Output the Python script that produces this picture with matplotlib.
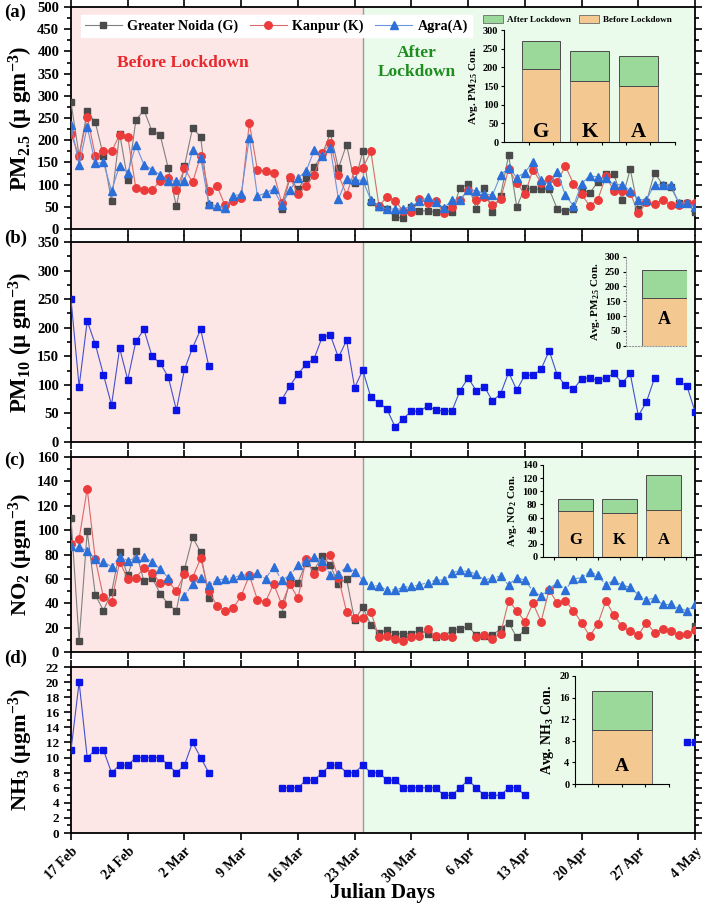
import numpy as np
import matplotlib
matplotlib.use('Agg')
import matplotlib.pyplot as plt
from matplotlib.patches import Patch
from matplotlib.ticker import MultipleLocator

plt.rcParams['font.family'] = ['Liberation Serif', 'DejaVu Serif']
plt.rcParams['font.weight'] = 'bold'
plt.rcParams['mathtext.fontset'] = 'custom'
plt.rcParams['mathtext.rm'] = 'Liberation Serif:bold'
plt.rcParams['mathtext.it'] = 'Liberation Serif:bold:italic'
plt.rcParams['mathtext.bf'] = 'Liberation Serif:bold'
plt.rcParams['axes.linewidth'] = 1.3

nan = np.nan
days = np.arange(78)
tick_days = [0, 7, 14, 21, 28, 35, 42, 49, 56, 63, 70, 77]
tick_labels = ['17 Feb', '24 Feb', '2 Mar', '9 Mar', '16 Mar', '23 Mar',
               '30 Mar', '6 Apr', '13 Apr', '20 Apr', '27 Apr', '4 May']
lockdown_day = 36

pm25_G = [285, 165, 265, 240, 165, 63, 215, 110, 245, 268,
          220, 212, 137, 51, 142, 228, 207, 55, nan, nan,
          nan, nan, nan, nan, nan, nan, 44, 115, 90, 116,
          140, 168, 216, 137, 190, 104, 175, 60, 50, 44,
          27, 25, 50, 41, 41, 38, 45, 38, 93, 101,
          45, 93, 39, 75, 166, 50, 93, 90, 90, 90,
          45, 40, 45, 90, 81, 106, 123, 123, 66, 135,
          45, 61, 127, 100, 95, 59, 59, 38]
pm25_K = [213, 165, 253, 165, 175, 175, 212, 208, 92, 87,
          88, 108, 115, 88, 137, 105, 165, 85, 98, 53,
          63, 70, 239, 133, 130, 126, 58, 117, 78, 98,
          122, 172, 193, 122, 77, 133, 137, 175, 52, 73,
          63, 41, 38, 67, 58, 64, 36, 50, 65, 89,
          65, 72, 55, 67, 135, 104, 78, 134, 104, 112,
          106, 142, 102, 78, 52, 66, 119, 86, 86, 82,
          35, 60, 56, 66, 54, 54, 58, 58]
pm25_A = [234, 145, 230, 148, 150, 86, 143, 127, 189, 145,
          134, 122, 109, 108, 108, 177, 161, 56, 52, 48,
          75, 78, 206, 74, 81, 90, 54, 87, 115, 130,
          177, 165, 182, 67, 113, 110, 110, 65, 51, 45,
          45, 45, 52, 62, 71, 60, 47, 65, 65, 89,
          86, 80, 76, 121, 138, 116, 127, 151, 110, 100,
          128, 76, 52, 102, 120, 117, 114, 100, 100, 86,
          66, 66, 100, 99, 100, 59, 59, 49]
pm10_A = [250, 97, 212, 171, 118, 65, 164, 109, 176, 197,
          150, 138, 114, 56, 127, 165, 197, 133, nan, nan,
          nan, nan, nan, nan, nan, nan, 74, 98, 119, 136,
          146, 184, 187, 148, 178, 95, 126, 78, 69, 57,
          26, 41, 54, 54, 63, 56, 54, 54, 90, 112,
          90, 97, 72, 84, 122, 91, 117, 117, 127, 160,
          117, 99, 92, 111, 112, 108, 112, 120, 103, 120,
          46, 70, 112, nan, nan, 106, 98, 53]
no2_G = [110, 9, 99, 47, 34, 49, 82, 63, 83, 58,
         61, 48, 39, 34, 68, 94, 82, 44, nan, nan,
         nan, nan, nan, nan, nan, nan, 31, 59, 57, 73,
         67, 79, 71, 56, 60, 26, 37, 22, 16, 18,
         15, 15, 15, 18, 15, 12, 13, 18, 19, 21,
         14, 13, 14, 19, 24, 12, 18, nan, nan, nan,
         nan, nan, nan, nan, nan, nan, nan, nan, nan, nan,
         nan, nan, nan, nan, nan, nan, nan, 21]
no2_K = [89, 93, 134, 76, 45, 41, 74, 60, 61, 69,
         65, 57, 58, 50, 64, 61, 77, 50, 38, 34,
         36, 46, 63, 43, 41, 56, 39, 56, 44, 76,
         64, 70, 80, 61, 33, 28, 28, 33, 12, 13,
         11, 9, 12, 13, 19, 13, 13, 12, nan, nan,
         12, 14, 11, 15, 42, 34, 25, 40, 25, 51,
         40, 42, 34, 24, 13, 23, 42, 30, 21, 17,
         14, 24, 16, 19, 17, 14, 15, 18]
no2_A = [87, 86, 83, 76, 74, 70, 78, 75, 77, 78,
         74, 68, 61, nan, 46, 56, 61, 55, 59, 60,
         61, 63, 63, 65, 60, 70, 59, 63, 71, 75,
         78, 75, 63, 64, 70, 66, 59, 55, 54, 51,
         51, 53, 54, 55, 57, 59, 59, 65, 67, 66,
         64, 59, 61, 62, 55, 61, 59, 50, 46, 52,
         57, 51, 60, 61, 66, 63, 55, 59, 55, 53,
         47, 43, 44, 39, 39, 36, 34, 39]
nh3_A = [11, 20, 10, 11, 11, 8, 9, 9, 10, 10,
         10, 10, 9, 8, 9, 12, 10, 8, nan, nan,
         nan, nan, nan, nan, nan, nan, 6, 6, 6, 7,
         7, 8, 9, 9, 8, 8, 9, 8, 8, 7,
         7, 6, 6, 6, 6, 6, 5, 5, 6, 7,
         6, 5, 5, 5, 6, 6, 5, nan, nan, nan,
         nan, nan, nan, nan, nan, nan, nan, nan, nan, nan,
         nan, nan, nan, nan, nan, nan, 12, 12]

# inset averages
cities = ['G', 'K', 'A']
pm25_before = [195, 163, 149]
pm25_after = [77, 80, 81]
pm10_before = [162]
pm10_after = [93]
no2_before = [70, 67, 72]
no2_after = [18, 21, 53]
nh3_before = [10]
nh3_after = [7.2]

series_names = ['Greater Noida (G)', 'Kanpur (K)', 'Agra(A)']

C_G, C_GL = '#4a4a4a', '#808080'
C_K, C_KL = '#ec3b3b', '#d86a6a'
C_A, C_AL = '#2c6fd8', '#6a95de'
C_B, C_BL = '#0a14e6', '#4450d0'
BG_BEFORE = '#fde6e6'
BG_AFTER = '#ebfbeb'
BAR_BEFORE = '#f3c891'
BAR_AFTER = '#9ad99a'

fig = plt.figure(figsize=(7.08, 9.11), dpi=100)
L, W = 0.1003, 0.8814
rects = [[L, 0.7486, W, 0.2437], [L, 0.5148, W, 0.2195],
         [L, 0.2843, W, 0.2140], [L, 0.0856, W, 0.1822]]
axes = [fig.add_axes(r) for r in rects]

ylims = [(0, 500, 50), (0, 350, 50), (0, 160, 20), (0, 22, 2)]
ylabels = ['PM$_{2.5}$ (μ gm$^{-3}$)', 'PM$_{10}$ (μ gm$^{-3}$)',
           'NO$_2$ (μgm$^{-3}$)', 'NH$_3$ (μgm$^{-3}$)']
ylabel_sizes = [16.5, 16.5, 16, 16]

for i, ax in enumerate(axes):
    ax.axvspan(0, lockdown_day, color=BG_BEFORE, zorder=0, lw=0)
    ax.axvspan(lockdown_day, 77, color=BG_AFTER, zorder=0, lw=0)
    ax.axvline(lockdown_day, color='#9a9a9a', lw=1.0, zorder=1)
    ax.set_xlim(0, 77)
    lo, hi, st = ylims[i]
    ax.set_ylim(lo, hi)
    ax.yaxis.set_major_locator(MultipleLocator(st))
    ax.yaxis.set_minor_locator(MultipleLocator(st / 2))
    ax.set_xticks(tick_days)
    ax.tick_params(which='both', direction='out', top=True, right=True,
                   width=1.2, labelsize=10.5 if i < 3 else 9.5)
    ax.tick_params(which='major', length=5)
    ax.tick_params(which='minor', length=3)
    ax.set_ylabel(ylabels[i], fontsize=ylabel_sizes[i], fontweight='bold')
    ax.yaxis.set_label_coords(-0.058, 0.5)
    if i < 3:
        ax.tick_params(labelbottom=False)
    for lab in ax.get_yticklabels():
        lab.set_fontweight('bold')

# panel a
ax = axes[0]
hG, = ax.plot(days, pm25_G, '-s', color=C_GL, mfc=C_G, mec=C_G, ms=4.8, lw=0.8, zorder=3)
hK, = ax.plot(days, pm25_K, '-o', color=C_KL, mfc=C_K, mec=C_K, ms=5.4, lw=0.8, zorder=4)
hA, = ax.plot(days, pm25_A, '-^', color=C_AL, mfc=C_A, mec=C_A, ms=6.0, lw=0.8, zorder=5)
ax.legend([hG, hK, hA], series_names, loc='upper left', bbox_to_anchor=(0.004, 0.995),
          ncol=3, frameon=True, fancybox=False, framealpha=1, edgecolor='white',
          prop={'size': 10.2, 'weight': 'bold'}, handlelength=2.6, columnspacing=0.8,
          handletextpad=0.4, borderpad=0.3)
ax.text(13.8, 374, 'Before Lockdown', color='#e8262b', fontsize=12.5, fontweight='bold',
        ha='center', va='center', zorder=6)
ax.text(42.7, 374, 'After\nLockdown', color='#1e8c1e', fontsize=12.5, fontweight='bold',
        ha='center', va='center', linespacing=1.25, zorder=6)

# panel b
ax = axes[1]
ax.plot(days, pm10_A, '-s', color=C_BL, mfc=C_B, mec=C_B, ms=4.6, lw=0.8, zorder=3)

# panel c
ax = axes[2]
ax.plot(days, no2_G, '-s', color=C_GL, mfc=C_G, mec=C_G, ms=4.8, lw=0.8, zorder=3)
ax.plot(days, no2_K, '-o', color=C_KL, mfc=C_K, mec=C_K, ms=5.4, lw=0.8, zorder=4)
ax.plot(days, no2_A, '--^', color=C_AL, mfc=C_A, mec=C_A, ms=6.0, lw=0.8, zorder=5)

# panel d
ax = axes[3]
ax.plot(days, nh3_A, '-s', color=C_BL, mfc=C_B, mec=C_B, ms=4.6, lw=0.8, zorder=3)
ax.set_xticklabels(tick_labels, rotation=45, ha='right', rotation_mode='anchor',
                   fontweight='bold', fontsize=10)

# panel letters
for letter, yc in zip(['(a)', '(b)', '(c)', '(d)'], [12, 238, 460, 658]):
    fig.text(0.006, 1 - yc / 911, letter, fontsize=13.5, fontweight='bold', va='center', ha='left')

fig.text(383 / 708, 1 - 893 / 911, 'Julian Days', fontsize=15, fontweight='bold',
         ha='center', va='center')


def inset(rect, before, after, labels, xlim, positions, width, ymax, ystep, ylabel,
          label_y, label_fs, dotted=False):
    ai = fig.add_axes(rect)
    ai.patch.set_alpha(0)
    ai.bar(positions, before, width=width, color=BAR_BEFORE, edgecolor='#6a6a6a', lw=0.7, zorder=2)
    ai.bar(positions, after, width=width, bottom=before, color=BAR_AFTER, edgecolor='#4a4a4a',
           lw=0.7, zorder=2)
    for p, lab in zip(positions, labels):
        ai.text(p, label_y, lab, ha='center', va='center', fontsize=label_fs, fontweight='bold')
    ai.set_xlim(*xlim)
    ai.set_ylim(0, ymax)
    ai.yaxis.set_major_locator(MultipleLocator(ystep))
    ai.spines['top'].set_visible(False)
    ai.spines['right'].set_visible(False)
    ai.tick_params(axis='y', labelsize=7.5, length=2.5, width=0.8, pad=1.5)
    ai.tick_params(axis='x', labelbottom=False, length=2.5, width=0.8)
    for lab in ai.get_yticklabels():
        lab.set_fontweight('bold')
    for s in ['left', 'bottom']:
        ai.spines[s].set_linewidth(0.8)
        if dotted:
            ai.spines[s].set_linestyle(':')
            ai.spines[s].set_color('#9a9a9a')
    ai.set_ylabel(ylabel, fontsize=8, fontweight='bold', labelpad=2)
    return ai


ia = inset([0.7119, 0.8441, 0.2415, 0.1229], pm25_before, pm25_after, cities,
           (0.24, 3.76), [1, 2, 3], 0.80, 300, 50, 'Avg. PM$_{2.5}$ Con.', 28, 15)
ia.set_xticks([0.75, 1.25, 1.75, 2.25, 2.75, 3.25, 3.75])
ia.legend([Patch(facecolor=BAR_AFTER, edgecolor='#6a6a6a', lw=0.6),
           Patch(facecolor=BAR_BEFORE, edgecolor='#6a6a6a', lw=0.6)],
          ['After Lockdown', 'Before Lockdown'], loc='lower center',
          bbox_to_anchor=(0.43, 1.02), ncol=2, frameon=False,
          prop={'size': 6.6, 'weight': 'bold'}, handlelength=2.2, handleheight=0.9,
          columnspacing=0.9, handletextpad=0.4, borderaxespad=0)

ib = inset([0.8842, 0.6205, 0.0862, 0.0977], pm10_before, pm10_after, ['A'],
           (0, 1), [0.63], 0.74, 300, 50, 'Avg. PM$_{2.5}$ Con.', 89, 13, dotted=True)
ib.set_xticks([])

ic = inset([0.7669, 0.3886, 0.2119, 0.1010], no2_before, no2_after, cities,
           (0.26, 3.67), [1, 2, 3], 0.80, 140, 20, 'Avg. NO$_2$ Con.', 26, 12)
ic.set_xticks([0.5, 1.0, 1.5, 2.0, 2.5, 3.0, 3.5])

idd = inset([0.8121, 0.1394, 0.1328, 0.1186], nh3_before, nh3_after, ['A'],
            (0, 1), [0.5], 0.64, 20, 4, 'Avg. NH$_3$ Con.', 3.3, 14)
idd.set_xticks([0.0, 0.25, 0.5, 0.75, 1.0])
idd.set_ylabel('Avg. NH$_3$ Con.', fontsize=10, fontweight='bold', labelpad=2)

fig.savefig('out.png', dpi=100)
